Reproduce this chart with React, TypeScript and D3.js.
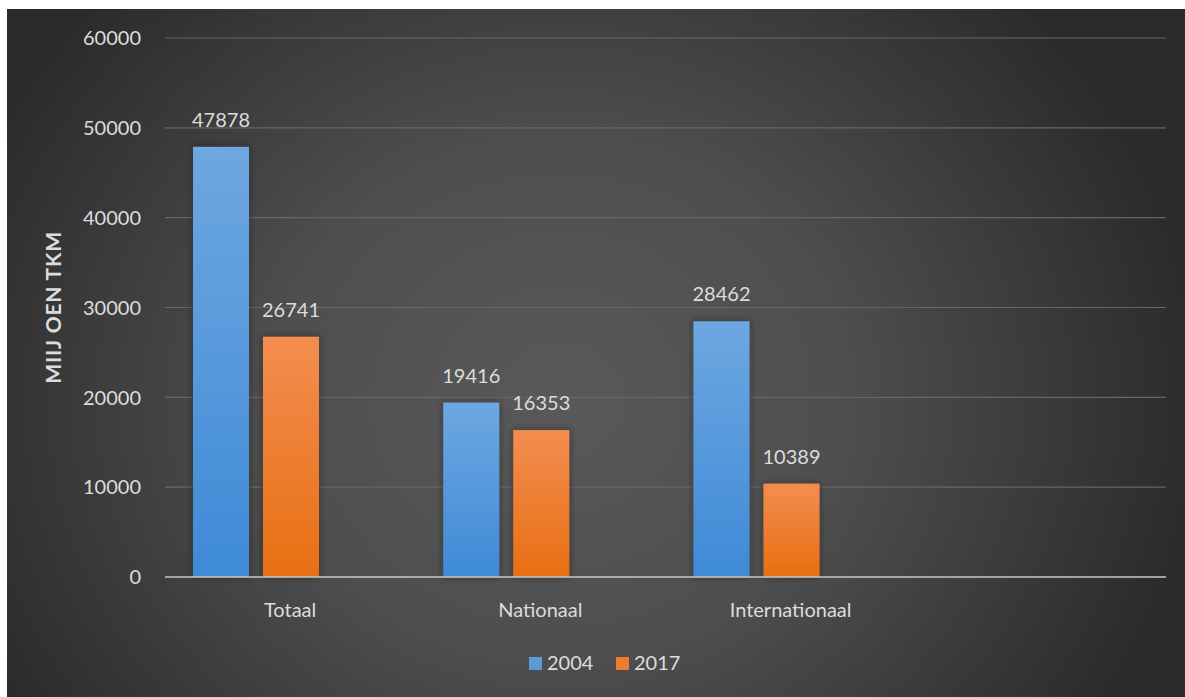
import React from "react";
import * as d3 from "d3";

const categories = ["Totaal", "Nationaal", "Internationaal", ""];
const seriesNames = ["2004", "2017"];
const values2004 = [47878, 19416, 28462];
const values2017 = [26741, 16353, 10389];
const yTicks = [0, 10000, 20000, 30000, 40000, 50000, 60000];
const yTitle = "MIIJ OEN TKM";

const W = 1185;
const H = 697;
const FONT = "Lato, 'Open Sans', sans-serif";
const TXT = "#dcdcdc";

export default function App() {
  const plotL = 165, plotR = 1166, plotT = 38, plotB = 577;
  const y = d3.scaleLinear().domain([0, 60000]).range([plotB, plotT]);
  const x = d3.scaleBand<string>().domain(categories).range([plotL, plotR]);
  const inner = d3.scaleBand<string>().domain(seriesNames).range([0, 126]).paddingInner(0.2);
  const groupOffset = 28;
  const series = [
    { name: "2004", values: values2004, fill: "url(#gBlue)" },
    { name: "2017", values: values2017, fill: "url(#gOrange)" },
  ];
  const legendItems = [
    { name: "2004", color: "#5b9bd5", x: 529 },
    { name: "2017", color: "#ed7d31", x: 616 },
  ];
  return (
    <svg width={W} height={H} style={{ position: "absolute", left: 0, top: 0 }}>
      <defs>
        <radialGradient id="bg" gradientUnits="userSpaceOnUse" cx={560} cy={400} r={640}
          gradientTransform="translate(560 400) scale(1 0.9) translate(-560 -400)">
          <stop offset="0" stopColor="#595959" />
          <stop offset="0.45" stopColor="#4e4e4e" />
          <stop offset="1" stopColor="#2b2b2b" />
        </radialGradient>
        <linearGradient id="gBlue" x1="0" y1="0" x2="0" y2="1">
          <stop offset="0" stopColor="#6ea7e1" />
          <stop offset="1" stopColor="#3f8ad7" />
        </linearGradient>
        <linearGradient id="gOrange" x1="0" y1="0" x2="0" y2="1">
          <stop offset="0" stopColor="#f38d50" />
          <stop offset="1" stopColor="#e86f12" />
        </linearGradient>
        <filter id="shadow" x="-30%" y="-10%" width="160%" height="120%">
          <feDropShadow dx="0" dy="0" stdDeviation="3" floodColor="#1a1a1a" floodOpacity="0.6" />
        </filter>
      </defs>
      <rect x={7} y={9} width={W - 7} height={H - 9} fill="url(#bg)" />
      {yTicks.map((t) => (
        <g key={t}>
          {t !== 0 && (
            <line x1={plotL} x2={plotR} y1={y(t)} y2={y(t)} stroke="#666666" strokeWidth={1.2} />
          )}
          <text x={141} y={y(t)} dy="0.36em" textAnchor="end" fill={TXT} fontFamily={FONT} fontSize={20}>
            {t}
          </text>
        </g>
      ))}
      {series.map((s) =>
        s.values.map((v, i) => {
          const cat = categories[i];
          const bx = (x(cat) as number) + groupOffset + (inner(s.name) as number);
          const bw = inner.bandwidth();
          return (
            <g key={s.name + cat}>
              <rect x={bx} y={y(v)} width={bw} height={y(0) - y(v)} fill={s.fill} filter="url(#shadow)" />
              <text x={bx + bw / 2} y={y(v) - 20} textAnchor="middle" fill={TXT} fontFamily={FONT} fontSize={20}>
                {v}
              </text>
            </g>
          );
        })
      )}
      <line x1={plotL} x2={plotR} y1={y(0)} y2={y(0)} stroke="#c9c9c9" strokeWidth={1.5} />
      {categories.map((c) => (
        <text key={c} x={(x(c) as number) + x.bandwidth() / 2} y={617} textAnchor="middle" fill={TXT}
          fontFamily={FONT} fontSize={20}>
          {c}
        </text>
      ))}
      <text transform={`translate(61, ${(plotT + plotB) / 2}) rotate(-90)`} textAnchor="middle" fill={TXT}
        fontFamily={FONT} fontSize={21} fontWeight="bold" letterSpacing={0.8}>
        {yTitle}
      </text>
      {legendItems.map((l) => (
        <g key={l.name}>
          <rect x={l.x} y={657} width={13} height={13} fill={l.color} />
          <text x={l.x + 18} y={670} fill={TXT} fontFamily={FONT} fontSize={20}>
            {l.name}
          </text>
        </g>
      ))}
    </svg>
  );
}
